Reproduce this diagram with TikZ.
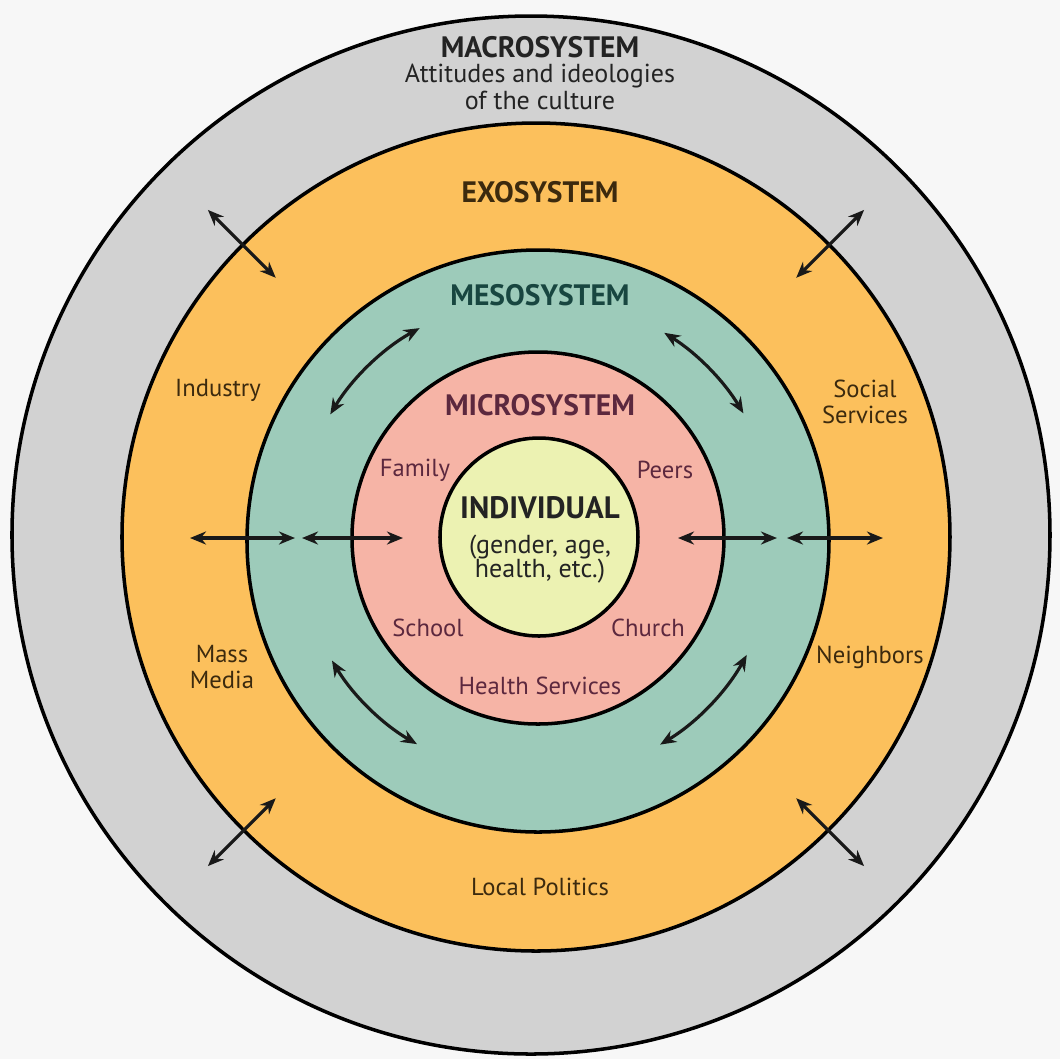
\documentclass[tikz,border=0pt]{standalone}
\usepackage{fontspec}
\setmainfont{PT Sans}
\usepackage{tikz}
\usetikzlibrary{arrows.meta}
\definecolor{paper}{RGB}{247,247,247}
\definecolor{macro}{RGB}{210,210,210}
\definecolor{exo}{RGB}{252,192,92}
\definecolor{meso}{RGB}{157,203,186}
\definecolor{micro}{RGB}{246,180,166}
\definecolor{indiv}{RGB}{236,242,178}
\definecolor{ink}{RGB}{35,35,35}
\definecolor{exoink}{RGB}{60,42,14}
\definecolor{mesoink}{RGB}{24,70,64}
\definecolor{microink}{RGB}{92,40,62}

\begin{document}
\begin{tikzpicture}[
  x=0.01cm, y=0.01cm,
  ring/.style={draw=black, line width=1pt},
  title/.style={font=\fontsize{8.4}{9}\selectfont\bfseries},
  lbl/.style={font=\fontsize{7}{7}\selectfont, align=center, inner sep=0pt},
  arr/.style={{Stealth[length=1.6mm,width=1.3mm]}-{Stealth[length=1.6mm,width=1.3mm]}, line width=0.9pt, black!90},
]
% background and frame
\fill[paper] (-536,-521) rectangle (524,538);
\useasboundingbox (-536,-521) rectangle (524,538);
% rings, outside in
\filldraw[ring, fill=macro] (-5,3) circle (519);
\filldraw[ring, fill=exo] (0,1) circle (414);
\filldraw[ring, fill=meso] (2,-3) circle (291);
\filldraw[ring, fill=micro] (2,0) circle (186);
\filldraw[ring, fill=indiv] (3,1) circle (99);
% macrosystem
\node[title, ink] (macrot) at (4,491) {MACROSYSTEM};
\node[lbl, ink, font=\fontsize{7.4}{6.6}\selectfont] (macrod) at (4,451) {Attitudes and ideologies\\of the culture};
% exosystem
\node[title, exoink] (exot) at (4,346) {EXOSYSTEM};
\node[lbl, exoink] (industry) at (-318,148) {Industry};
\node[lbl, exoink, font=\fontsize{7}{7.5}\selectfont] (social) at (329,136) {Social\\Services};
\node[lbl, exoink, font=\fontsize{7}{7.5}\selectfont] (media) at (-314,-129) {Mass\\Media};
\node[lbl, exoink] (neigh) at (334,-119) {Neighbors};
\node[lbl, exoink] (politics) at (4,-349) {Local Politics};
% mesosystem
\node[title, mesoink] (mesot) at (4,243) {MESOSYSTEM};
% microsystem
\node[title, microink] (microt) at (4,133) {MICROSYSTEM};
\node[lbl, microink] (family) at (-121,68) {Family};
\node[lbl, microink] (peers) at (129,68) {Peers};
\node[lbl, microink] (school) at (-108,-90) {School};
\node[lbl, microink] (church) at (112,-90) {Church};
\node[lbl, microink] (health) at (4,-148) {Health Services};
% individual
\node[title, ink, font=\fontsize{8.8}{10}\selectfont\bfseries] (indivt) at (4,30) {INDIVIDUAL};
\node[lbl, ink, font=\fontsize{7.4}{7}\selectfont] (indivd) at (4,-21) {(gender, age,\\health, etc.)};
% arrows across the rings
\draw[arr] (-346,0) -- (-241,0);
\draw[arr] (-234,0) -- (-133,0);
\draw[arr] (142,0) -- (241,0);
\draw[arr] (251,0) -- (347,0);
\draw[arr] (135:368) -- (135:464);
\draw[arr] (45:368) -- (45:464);
\draw[arr] (225:368) -- (225:464);
\draw[arr] (315:368) -- (315:464);
% curved arrows in the mesosystem
\draw[arr] (119:240) arc[start angle=119, end angle=149, radius=240];
\draw[arr] (31:242) arc[start angle=31, end angle=58, radius=242];
\draw[arr] (-149:238) arc[start angle=-149, end angle=-120, radius=238];
\draw[arr] (-59:241) arc[start angle=-59, end angle=-29, radius=241];
\end{tikzpicture}
\end{document}
